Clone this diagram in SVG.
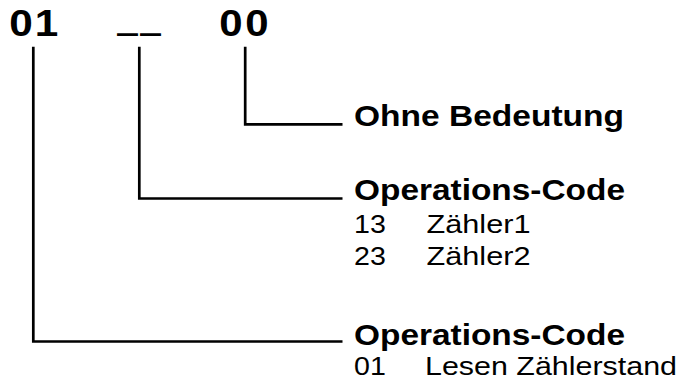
<svg xmlns="http://www.w3.org/2000/svg" width="677" height="381" viewBox="0 0 677 381">
<style>
text{font-family:"Liberation Sans",Arial,Helvetica,sans-serif;fill:#000}
.big{font-size:36.5px;font-weight:bold}
.us{font-family:"DejaVu Sans",sans-serif;font-size:30px;font-weight:bold}
.h{font-size:30px;font-weight:bold}
.r{font-size:26px}
.conn path{fill:none;stroke:#000;stroke-width:2.7;stroke-linecap:butt;stroke-linejoin:miter}
</style>
<rect width="677" height="381" fill="#fff"/>
<g id="code">
<text class="big" transform="translate(9.3,35.5) scale(1.16,1)" x="0 22">01</text>
<text class="us" transform="translate(117,28.7) scale(1.4,1)" x="0 16.4">__</text>
<text class="big" transform="translate(219.3,35.5) scale(1.15,1)" x="0 22.6">00</text>
</g>
<g class="conn" id="connectors">
<path d="M33.3 46.7V341.5H342.5"/>
<path d="M139.3 46.7V198.5H342.5"/>
<path d="M245.2 46.7V124.3H342.5"/>
</g>
<g id="ohne">
<text class="h" x="354" y="126" textLength="270" lengthAdjust="spacingAndGlyphs">Ohne Bedeutung</text>
</g>
<g id="opcode2">
<text class="h" x="354" y="199.5" textLength="271" lengthAdjust="spacingAndGlyphs">Operations-Code</text>
<text class="r" x="354" y="232.5" textLength="31.8" lengthAdjust="spacingAndGlyphs">13</text>
<text class="r" x="426.5" y="232.5" textLength="104" lengthAdjust="spacingAndGlyphs">Zähler1</text>
<text class="r" x="354" y="264.5" textLength="31.8" lengthAdjust="spacingAndGlyphs">23</text>
<text class="r" x="426.5" y="264.5" textLength="104" lengthAdjust="spacingAndGlyphs">Zähler2</text>
</g>
<g id="opcode1">
<text class="h" x="354" y="344.5" textLength="271" lengthAdjust="spacingAndGlyphs">Operations-Code</text>
<text class="r" x="354" y="375" textLength="31.8" lengthAdjust="spacingAndGlyphs">01</text>
<text class="r" x="425" y="375" textLength="252" lengthAdjust="spacingAndGlyphs">Lesen Zählerstand</text>
</g>
</svg>
